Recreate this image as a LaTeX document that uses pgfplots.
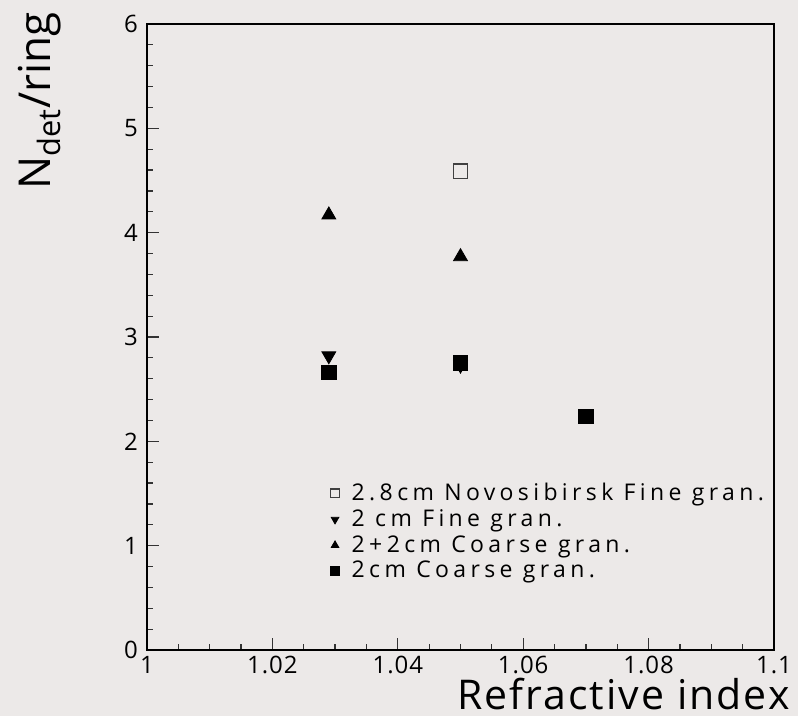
\documentclass[border=0pt]{standalone}
\usepackage{fontspec}
\setmainfont{Open Sans}
\newfontfamily\legfont[LetterSpace=19]{Open Sans}
\newfontfamily\labfont[LetterSpace=5]{Open Sans}
\newfontfamily\tickfont[LetterSpace=4]{Open Sans}
\usepackage{pgfplots}
\pgfplotsset{compat=1.18}
\definecolor{bgc}{RGB}{236,233,232}
\begin{document}
\begin{tikzpicture}
  % page background
  \fill[bgc] (-73.5pt,-33.25pt) rectangle (325.5pt,325pt);
  \begin{axis}[
      scale only axis,
      width=313.5pt,
      height=313pt,
      anchor=south west,
      at={(0pt,0pt)},
      xmin=1, xmax=1.1,
      ymin=0, ymax=6,
      xtick={1,1.02,1.04,1.06,1.08,1.1},
      xticklabels={1,1.02,1.04,1.06,1.08,1.1},
      ytick={0,1,2,3,4,5,6},
      minor xtick={1.005,1.01,1.015,1.025,1.03,1.035,1.045,1.05,1.055,1.065,1.07,1.075,1.085,1.09,1.095},
      minor ytick={0.2,0.4,0.6,0.8,1.2,1.4,1.6,1.8,2.2,2.4,2.6,2.8,3.2,3.4,3.6,3.8,4.2,4.4,4.6,4.8,5.2,5.4,5.6,5.8},
      tick align=inside,
      xtick pos=left,
      ytick pos=left,
      major tick length=6pt,
      minor tick length=3.2pt,
      axis line style={line width=1pt},
      major tick style={line width=0.6pt, black!80},
      minor tick style={line width=0.6pt, black!80},
      tick label style={font=\tickfont\fontsize{12}{14}\selectfont},
      /pgf/number format/assume math mode=true,
      xticklabel style={inner sep=1pt, yshift=-2pt},
      yticklabel style={xshift=-1pt},
      xlabel={Refractive index},
      xlabel style={at={(axis description cs:1,0)}, anchor=north east, inner sep=0pt,
                    xshift=8pt, yshift=-14pt, font=\labfont\fontsize{20.5}{24}\selectfont},
      ylabel={N$_{\mathrm{det}}$/ring},
      ylabel style={at={(axis description cs:-0.125,1.03)}, anchor=south east,
                    font=\fontsize{22}{26}\selectfont},
      legend style={draw=none, fill=none, at={(axis description cs:0.279,0.28)},
                    anchor=north west, row sep=-1pt,
                    font=\legfont\fontsize{11.5}{13.5}\selectfont},
      legend cell align=left,
      legend image code/.code={%
        \path (0pt,0pt) (9pt,0pt);
        \draw[#1, mark size=2.2pt] plot coordinates {(3pt,0pt)};},
      clip=false,
    ]
    \addplot[only marks, mark=square, mark size=3.6pt, draw=black!75, line width=0.7pt]
      coordinates {(1.05,4.59)};
    \addlegendentry{2.8cm Novosibirsk Fine gran.}
    \addplot[only marks, mark=triangle*, mark options={rotate=180}, mark size=4pt, black]
      coordinates {(1.029,2.82) (1.05,2.73)};
    \addlegendentry{2 cm Fine gran.}
    \addplot[only marks, mark=triangle*, mark size=4pt, black]
      coordinates {(1.029,4.17) (1.05,3.77)};
    \addlegendentry{2+2cm Coarse gran.}
    \addplot[only marks, mark=square*, mark size=3.6pt, black]
      coordinates {(1.029,2.66) (1.05,2.75) (1.07,2.24)};
    \addlegendentry{2cm Coarse gran.}
  \end{axis}
  \pgfresetboundingbox
  \path[use as bounding box] (-73.5pt,-33.25pt) rectangle (325.5pt,325pt);
\end{tikzpicture}
\end{document}
